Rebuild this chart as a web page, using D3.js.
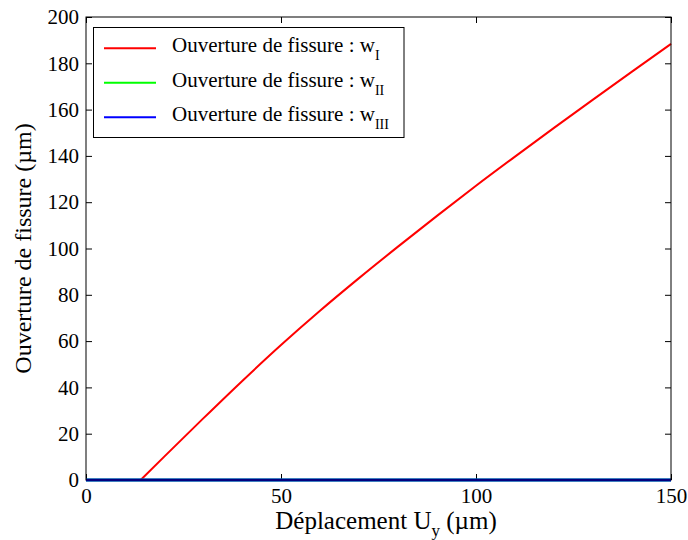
<!DOCTYPE html>
<html>
<head>
<meta charset="utf-8">
<script src="https://cdn.jsdelivr.net/npm/d3@7"></script>
<style>
  html, body { margin: 0; padding: 0; background: #fff; }
  svg { display: block; font-family: "Liberation Serif", "Times New Roman", serif; }
</style>
</head>
<body>
<svg id="chart" width="688" height="540"></svg>
<script>
// ---- Data ----
const dispX = [14, 20, 30, 40, 50, 60, 70, 80, 90, 100, 110, 120, 130, 140, 150];
const wI    = [0, 10.0, 26.5, 42.7, 58.3, 73.1, 87.2, 100.8, 114.1, 127.1, 139.7, 152.1, 164.3, 176.4, 188.4];
const flatX = [0, 150];
const wII   = [0, 0];
const wIII  = [0, 0];
const xTicks = [0, 50, 100, 150];
const yTicks = [0, 20, 40, 60, 80, 100, 120, 140, 160, 180, 200];
const seriesNames = ["I", "II", "III"];
const seriesColors = ["#ff0000", "#00ff00", "#0000ff"];

// ---- Layout ----
const svg = d3.select("#chart");
const L = 86, R = 671, T = 17, B = 480;
const x = d3.scaleLinear().domain([0, 150]).range([L, R]);
const y = d3.scaleLinear().domain([0, 200]).range([B, T]);
const tickLen = 6;

const gx = svg.append("g").attr("transform", `translate(0,${B})`)
  .call(d3.axisBottom(x).tickValues(xTicks).tickSize(-tickLen).tickPadding(8).tickFormat(d3.format("d")));
const gxTop = svg.append("g").attr("transform", `translate(0,${T})`)
  .call(d3.axisTop(x).tickValues(xTicks).tickSize(-tickLen).tickFormat(""));
const gy = svg.append("g").attr("transform", `translate(${L},0)`)
  .call(d3.axisLeft(y).tickValues(yTicks).tickSize(-tickLen).tickPadding(7).tickFormat(d3.format("d")));
const gyR = svg.append("g").attr("transform", `translate(${R},0)`)
  .call(d3.axisRight(y).tickValues(yTicks).tickSize(-tickLen).tickFormat(""));
[gx, gxTop, gy, gyR].forEach(g => {
  g.select(".domain").remove();
  g.selectAll(".tick line").attr("stroke", "#000").attr("stroke-width", 1);
  g.selectAll("text").attr("font-family", "Liberation Serif").attr("font-size", 21).attr("fill", "#000");
});

// lines
const line = d3.line().x(d => x(d[0])).y(d => y(d[1])).curve(d3.curveMonotoneX);
const dataSets = [
  d3.zip(dispX, wI),
  d3.zip(flatX, wII),
  d3.zip(flatX, wIII)
];
dataSets.forEach((ds, i) => {
  svg.append("path").datum(ds).attr("d", line)
    .attr("fill", "none").attr("stroke", seriesColors[i])
    .attr("stroke-width", i === 0 ? 2 : 3);
});

// box
svg.append("rect").attr("x", L).attr("y", T).attr("width", R - L).attr("height", B - T)
  .attr("fill", "none").attr("stroke", "#000").attr("stroke-width", 1);

// axis labels
const xl = svg.append("text").attr("x", 386).attr("y", 529).attr("text-anchor", "middle")
  .attr("font-size", 25).attr("fill", "#000");
xl.append("tspan").text("Déplacement U");
xl.append("tspan").attr("font-size", 17).attr("dy", 7).text("y");
xl.append("tspan").attr("dy", -7).text(" (µm)");

svg.append("text").attr("transform", `translate(31,${(T + B) / 2}) rotate(-90)`)
  .attr("text-anchor", "middle").attr("font-size", 24).attr("fill", "#000")
  .text("Ouverture de fissure (µm)");

// legend
const lg = svg.append("g");
lg.append("rect").attr("x", 93.5).attr("y", 27.5).attr("width", 310.5).attr("height", 110)
  .attr("fill", "#fff").attr("stroke", "#000").attr("stroke-width", 1);
const rowsY = [48.3, 82.7, 117.3];
seriesNames.forEach((n, i) => {
  lg.append("line").attr("x1", 104).attr("x2", 156).attr("y1", rowsY[i]).attr("y2", rowsY[i])
    .attr("stroke", seriesColors[i]).attr("stroke-width", 2);
  const t = lg.append("text").attr("x", 172).attr("y", rowsY[i] + 4).attr("font-size", 21).attr("fill", "#000");
  t.append("tspan").text("Ouverture de fissure : w");
  t.append("tspan").attr("font-size", 14).attr("dy", 8).text(n);
});
</script>
</body>
</html>
